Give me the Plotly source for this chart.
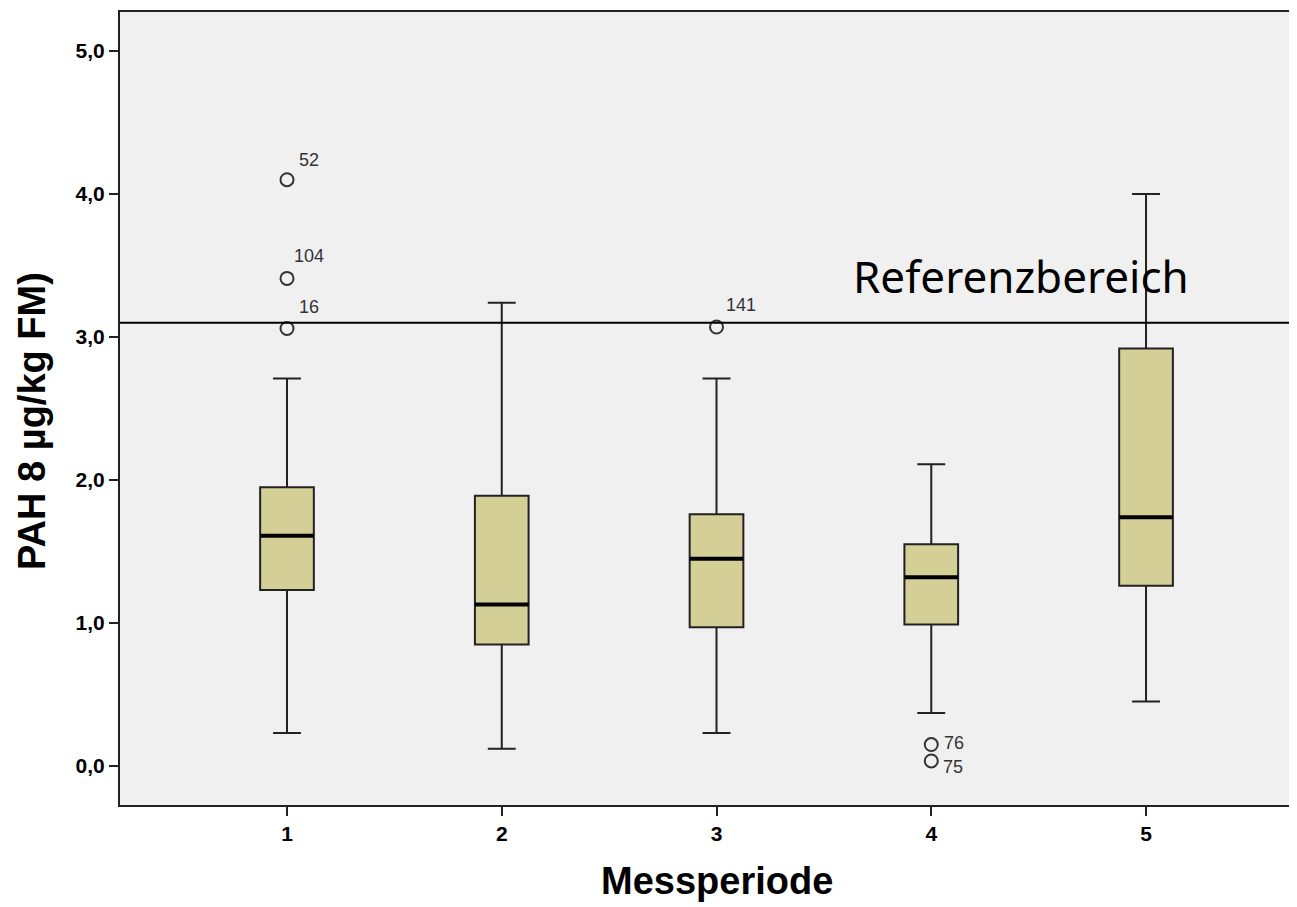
import plotly.graph_objects as go

# ---- data ----
periods = [1, 2, 3, 4, 5]
lower_whisker = [0.23, 0.12, 0.23, 0.37, 0.45]
q1 = [1.23, 0.85, 0.97, 0.99, 1.26]
median = [1.61, 1.13, 1.45, 1.32, 1.74]
q3 = [1.95, 1.89, 1.76, 1.55, 2.92]
upper_whisker = [2.71, 3.24, 2.71, 2.11, 4.00]

outlier_period = [1, 1, 1, 3, 4, 4]
outlier_value = [4.10, 3.41, 3.06, 3.07, 0.15, 0.035]
outlier_label = ["52", "104", "16", "141", "76", "75"]
# label offsets (pixels) relative to each outlier marker
label_dx = [10, 5, 10, 7, 11, 10]
label_dy = [20, 22, 21, 22, 2, -6]

reference_value = 3.10
reference_label = "Referenzbereich"
y_ticks = [0, 1, 2, 3, 4, 5]

BOX_W = 0.25
BOX_FILL = "#D4CF97"
LINE_C = "#222222"

fig = go.Figure()

fig.add_trace(go.Box(
    x=periods, q1=q1, median=median, q3=q3,
    lowerfence=lower_whisker, upperfence=upper_whisker,
    width=BOX_W, whiskerwidth=0.52,
    fillcolor=BOX_FILL, line=dict(color=LINE_C, width=2),
    boxpoints=False, showlegend=False, hoverinfo="skip",
))

# thick median lines
for p, m in zip(periods, median):
    fig.add_trace(go.Scatter(
        x=[p - BOX_W / 2, p + BOX_W / 2], y=[m, m], mode="lines",
        line=dict(color="black", width=4), showlegend=False, hoverinfo="skip",
    ))

# outliers
fig.add_trace(go.Scatter(
    x=outlier_period, y=outlier_value, mode="markers",
    marker=dict(symbol="circle-open", size=13, color="#333333", line=dict(width=2, color="#333333")),
    showlegend=False, hoverinfo="skip",
))
for px, pv, lab, dx, dy in zip(outlier_period, outlier_value, outlier_label, label_dx, label_dy):
    fig.add_annotation(x=px, y=pv, xref="x", yref="y", text=lab, showarrow=False,
                       xanchor="left", yanchor="middle", xshift=dx, yshift=dy,
                       font=dict(family="Liberation Sans, Arial, sans-serif", size=18, color="#333333"))

# reference line
fig.add_shape(type="line", xref="paper", x0=0, x1=1, yref="y", y0=reference_value, y1=reference_value,
              line=dict(color="black", width=2))
fig.add_annotation(x=3.625, y=reference_value + 0.33, xref="x", yref="y", text=reference_label,
                   showarrow=False, xanchor="left", yanchor="middle",
                   font=dict(family="Noto Sans, DejaVu Sans, sans-serif", size=44, color="black"))

# axis titles
fig.add_annotation(x=3.0, xref="x", y=-0.0958, yref="paper", text="Messperiode", showarrow=False,
                   xanchor="center", yanchor="middle",
                   font=dict(family="Liberation Sans, Arial, sans-serif", size=38, color="black", weight="bold"))
fig.add_annotation(x=-0.075, xref="paper", y=0.484, yref="paper", text="PAH 8 µg/kg FM)", showarrow=False,
                   textangle=-90, xanchor="center", yanchor="middle",
                   font=dict(family="Liberation Sans, Arial, sans-serif", size=38, color="black", weight="bold"))

tickfont = dict(family="Liberation Sans, Arial, sans-serif", size=21, color="black", weight="bold")

fig.update_layout(
    width=1289, height=899,
    margin=dict(l=112, r=0, t=4, b=102),
    paper_bgcolor="white", plot_bgcolor="#F0F0F0",
    separators=",.",
    xaxis=dict(range=[0.2224, 5.703], tickvals=periods, ticktext=[str(p) for p in periods],
               showgrid=False, zeroline=False, showline=True, mirror=True,
               linecolor=LINE_C, linewidth=2, ticks="outside", ticklen=9, tickwidth=2,
               tickcolor=LINE_C, tickfont=tickfont),
    yaxis=dict(range=[-0.273, 5.273], tickvals=y_ticks, tickformat=".1f",
               showgrid=False, zeroline=False, showline=True, mirror=False,
               linecolor=LINE_C, linewidth=2, ticks="outside", ticklen=9, tickwidth=2,
               tickcolor=LINE_C, tickfont=tickfont),
)

fig.write_html("out.html")
